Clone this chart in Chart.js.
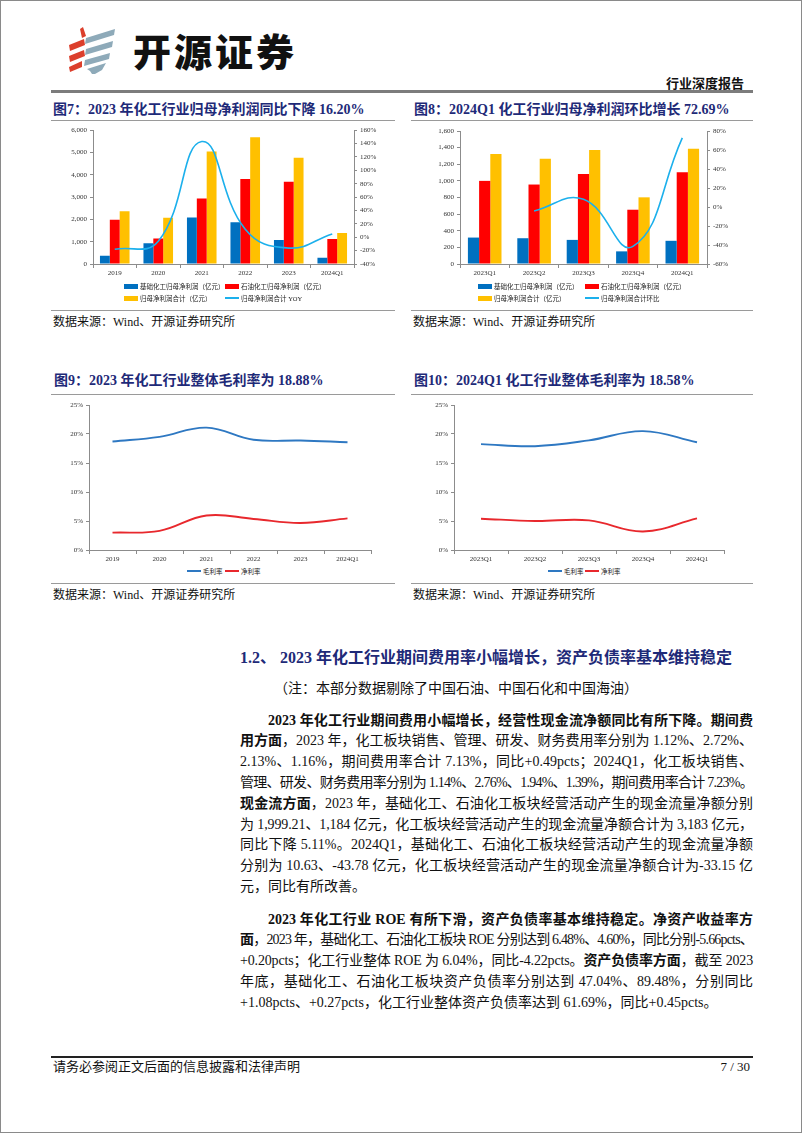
<!DOCTYPE html>
<html lang="zh-CN">
<head>
<meta charset="utf-8">
<title>化工行业深度报告 p7</title>
<script src="https://cdn.jsdelivr.net/npm/chart.js@4.4.1/dist/chart.umd.min.js"></script>
<style>
  body { margin: 0; background: #fff; }
  #page {
    position: relative; width: 802px; height: 1133px; background: #fff;
    border: 1px solid #8a8a8a; box-sizing: border-box; overflow: hidden;
    font-family: "Liberation Serif", "Noto Sans CJK SC", serif; color: #111;
  }
  .abs { position: absolute; white-space: nowrap; }
  .rule { position: absolute; background: #9a9a9a; height: 1.5px; }
  .ftitle { font-size: 14px; font-weight: bold; color: #1e2a78; height: 20px; line-height: 20px; }
  .src { font-size: 12px; height: 18px; line-height: 18px; color: #111; }
  canvas { position: absolute; }
  .lg { position: absolute; display: flex; align-items: center; height: 8px; font-size: 6.5px; color: #222;
        font-family: "Liberation Serif", "Noto Sans CJK SC", serif; white-space: nowrap; }
  .sw { display: inline-block; width: 14px; margin-right: 2px; }
  .para { position: absolute; left: 239px; width: 513px; font-size: 14px; line-height: 20.8px; }
  .ln { white-space: nowrap; text-align: justify; text-align-last: justify; height: 20.8px; }
  .ln.last { text-align-last: left; }
  .ln.ind { padding-left: 28px; }
</style>
</head>
<body>
<div id="page">

  <!-- header -->
  <svg class="abs" style="left:60px;top:22px" width="62" height="55" viewBox="0 0 62 55">
    <g fill="#dc3f2c">
      <polygon points="19,6 22,4 25,13 21,15"/>
      <polygon points="8,22 23,16 24,22 9,28"/>
      <polygon points="8,33 23,27 24,33 9,39"/>
      <polygon points="8,44 21,38 21,44 9,49"/>
    </g>
    <g fill="#8eaab9">
      <polygon points="25,15 54,6 53,12 24,21"/>
      <polygon points="25,26 52,18 51,24 24,32"/>
      <polygon points="24,37 49,30 48,36 23,43"/>
      <polygon points="26,46 45,40 41,47 34,51 31,51 29,48"/>
    </g>
  </svg>
  <div class="abs" style="left:132px;top:30px;font-family:'Noto Sans CJK SC';font-weight:900;font-size:38px;line-height:38px;letter-spacing:3px;color:#111">开源证券</div>
  <div class="abs" style="right:57px;top:74px;font-family:'Noto Sans CJK SC';font-weight:700;font-size:13px;line-height:16px;color:#111">行业深度报告</div>
  <div class="rule" style="left:50px;top:89px;width:702px;height:2.5px;background:#7c7c7c"></div>

  <!-- figure 7 / 8 -->
  <div class="abs ftitle" style="left:52px;top:99px">图7：2023 年化工行业归母净利润同比下降 16.20%</div>
  <div class="rule" style="left:50px;top:118.5px;width:344px"></div>
  <canvas id="fig7" width="347" height="160" style="left:48px;top:122px"></canvas>
  <div class="rule" style="left:50px;top:308.5px;width:344px"></div>
  <div class="abs src" style="left:52px;top:312px">数据来源：Wind、开源证券研究所</div>

  <div class="abs ftitle" style="left:413px;top:99px">图8：2024Q1 化工行业归母净利润环比增长 72.69%</div>
  <div class="rule" style="left:410px;top:118.5px;width:342px"></div>
  <canvas id="fig8" width="330" height="160" style="left:410px;top:122px"></canvas>
  <div class="rule" style="left:410px;top:308.5px;width:342px"></div>
  <div class="abs src" style="left:412px;top:312px">数据来源：Wind、开源证券研究所</div>

  <!-- figure 9 / 10 -->
  <div class="abs ftitle" style="left:53px;top:370px">图9：2023 年化工行业整体毛利率为 18.88%</div>
  <div class="rule" style="left:50px;top:392.5px;width:344px"></div>
  <canvas id="fig9" width="345" height="170" style="left:40px;top:395px"></canvas>
  <div class="rule" style="left:50px;top:581.5px;width:344px"></div>
  <div class="abs src" style="left:52px;top:585px">数据来源：Wind、开源证券研究所</div>

  <div class="abs ftitle" style="left:413px;top:370px">图10：2024Q1 化工行业整体毛利率为 18.58%</div>
  <div class="rule" style="left:410px;top:392.5px;width:342px"></div>
  <canvas id="fig10" width="340" height="170" style="left:400px;top:395px"></canvas>
  <div class="rule" style="left:410px;top:581.5px;width:342px"></div>
  <div class="abs src" style="left:412px;top:585px">数据来源：Wind、开源证券研究所</div>

  <!-- text section -->
  <div class="abs" style="left:239px;top:646px;font-size:16px;line-height:22px;font-weight:bold;color:#1e2a78">1.2、 2023 年化工行业期间费用率小幅增长，资产负债率基本维持稳定</div>
  <div class="abs" style="left:273px;top:678px;font-size:14px;line-height:20px">（注：本部分数据剔除了中国石油、中国石化和中国海油）</div>

  <div class="para" style="top:709.6px">
    <div class="ln ind"><span><b>2023 年化工行业期间费用小幅增长，经营性现金流净额同比有所下降。期间费</b></span></div>
    <div class="ln"><span><b>用方面</b>，2023 年，化工板块销售、管理、研发、财务费用率分别为 1.12%、2.72%、</span></div>
    <div class="ln"><span>2.13%、1.16%，期间费用率合计 7.13%，同比+0.49pcts；2024Q1，化工板块销售、</span></div>
    <div class="ln"><span>管理、研发、财务费用率分别为 1.14%、2.76%、1.94%、1.39%，期间费用率合计 7.23%。</span></div>
    <div class="ln"><span><b>现金流方面</b>，2023 年，基础化工、石油化工板块经营活动产生的现金流量净额分别</span></div>
    <div class="ln"><span>为 1,999.21、1,184 亿元，化工板块经营活动产生的现金流量净额合计为 3,183 亿元，</span></div>
    <div class="ln"><span>同比下降 5.11%。2024Q1，基础化工、石油化工板块经营活动产生的现金流量净额</span></div>
    <div class="ln"><span>分别为 10.63、-43.78 亿元，化工板块经营活动产生的现金流量净额合计为-33.15 亿</span></div>
    <div class="ln last"><span>元，同比有所改善。</span></div>
  </div>

  <div class="para" style="top:908.6px">
    <div class="ln ind"><span><b>2023 年化工行业 ROE 有所下滑，资产负债率基本维持稳定。净资产收益率方</b></span></div>
    <div class="ln"><span><b>面</b>，2023 年，基础化工、石油化工板块 ROE 分别达到 6.48%、4.60%，同比分别-5.66pcts、</span></div>
    <div class="ln"><span>+0.20pcts；化工行业整体 ROE 为 6.04%，同比-4.22pcts。<b>资产负债率方面</b>，截至 2023</span></div>
    <div class="ln"><span>年底，基础化工、石油化工板块资产负债率分别达到 47.04%、89.48%，分别同比</span></div>
    <div class="ln last"><span>+1.08pcts、+0.27pcts，化工行业整体资产负债率达到 61.69%，同比+0.45pcts。</span></div>
  </div>

  <!-- footer -->
  <div class="rule" style="left:50px;top:1055px;width:702px;background:#222"></div>
  <div class="abs" style="left:52px;top:1058px;font-size:13px;line-height:16px">请务必参阅正文后面的信息披露和法律声明</div>
  <div class="abs" style="right:51px;top:1058px;font-size:13px;line-height:16px">7 / 30</div>
</div>

<script>
// ---- data (亿元 / %) ----
const years = ['2019', '2020', '2021', '2022', '2023', '2024Q1'];
const basicProfit = [370, 930, 2090, 1870, 1080, 280];
const petroProfit = [1980, 1140, 2940, 3810, 3690, 1120];
const totalProfit = [2360, 2070, 5040, 5680, 4760, 1390];
const totalYoy = [-18, -6, 143, 12, -16.2, 5];

const quarters = ['2023Q1', '2023Q2', '2023Q3', '2023Q4', '2024Q1'];
const qBasicProfit = [318, 310, 290, 152, 279];
const qPetroProfit = [1000, 956, 1084, 653, 1104];
const qTotalProfit = [1323, 1267, 1370, 802, 1385];
const qTotalQoq = [null, -4.2, 8.1, -41.5, 72.69];

const grossYear = [18.7, 19.5, 21.1, 19.0, 18.88, 18.58];
const netYear = [3.0, 3.3, 5.95, 5.35, 4.65, 5.45];
const grossQ = [18.25, 17.9, 18.9, 20.5, 18.58];
const netQ = [5.4, 5.0, 5.1, 3.2, 5.45];

const profitLegend = ['基础化工归母净利润（亿元）', '石油化工归母净利润（亿元）', '归母净利润合计（亿元）'];
const marginLegend = ['毛利率', '净利率'];

// ---- styles ----
const AXIS = '#8c8c8c';
const TXT = '#333';
const tickFont = { family: 'Liberation Serif', size: 7 };
const BLUE = '#0070c0', RED = '#ff0000', YELLOW = '#ffc000', CYAN = '#1cb0ec';

function axisGrid(len) {
  return { drawOnChartArea: false, drawTicks: true, tickLength: len, color: AXIS, lineWidth: 1 };
}

function profitChart(id, labels, basic, petro, total, rate, rateLabel, yMax, yStep, rMin, rMax, box) {
  const bar = (label, data, color) => ({
    type: 'bar', label, data, backgroundColor: color, order: 1,
    barPercentage: 1, categoryPercentage: 0.68
  });
  return new Chart(document.getElementById(id), {
    type: 'bar',
    data: {
      labels,
      datasets: [
        bar(profitLegend[0], basic, BLUE),
        bar(profitLegend[1], petro, RED),
        bar(profitLegend[2], total, YELLOW),
        {
          type: 'line', label: rateLabel, data: rate, yAxisID: 'y1', order: 0,
          borderColor: CYAN, borderWidth: 1.6, pointRadius: 0, tension: 0.45, fill: false
        }
      ]
    },
    options: {
      responsive: false, animation: false,
      layout: { padding: { top: box.top, left: 0, right: 0, bottom: 0 } },
      plugins: { legend: { display: false }, tooltip: { enabled: false } },
      scales: {
        x: {
          grid: Object.assign(axisGrid(4), { offset: true }),
          border: { display: true, color: AXIS },
          ticks: { font: tickFont, color: TXT, padding: 1, maxRotation: 0, autoSkip: false },
          afterFit: s => { s.height = box.xh; }
        },
        y: {
          position: 'left', min: 0, max: yMax,
          grid: axisGrid(3), border: { display: true, color: AXIS },
          ticks: { stepSize: yStep, font: tickFont, color: TXT, padding: 3,
                   callback: v => v.toLocaleString('en-US') },
          afterFit: s => { s.width = box.yl; }
        },
        y1: {
          position: 'right', min: rMin, max: rMax,
          grid: axisGrid(3), border: { display: true, color: AXIS },
          ticks: { stepSize: 20, font: tickFont, color: TXT, padding: 3, callback: v => v + '%' },
          afterFit: s => { s.width = box.yr; }
        }
      }
    }
  });
}

function marginChart(id, labels, gross, net, box) {
  const line = (label, data, color) => ({
    label, data, borderColor: color, borderWidth: 1.9, pointRadius: 0, tension: 0.4, fill: false
  });
  return new Chart(document.getElementById(id), {
    type: 'line',
    data: { labels, datasets: [line(marginLegend[0], gross, '#2e78c2'), line(marginLegend[1], net, '#e8282d')] },
    options: {
      responsive: false, animation: false,
      layout: { padding: { top: box.top, left: 0, right: box.right, bottom: 0 } },
      plugins: { legend: { display: false }, tooltip: { enabled: false } },
      scales: {
        x: {
          offset: true,
          grid: Object.assign(axisGrid(4), { offset: true }),
          border: { display: true, color: AXIS },
          ticks: { font: tickFont, color: TXT, padding: 1, maxRotation: 0, autoSkip: false },
          afterFit: s => { s.height = box.xh; }
        },
        y: {
          min: 0, max: 25,
          grid: axisGrid(3), border: { display: true, color: AXIS },
          ticks: { stepSize: 5, font: tickFont, color: TXT, padding: 3, callback: v => v + '%' },
          afterFit: s => { s.width = box.yl; }
        }
      }
    }
  });
}

// legend drawn as html from the chart's own datasets
function htmlLegend(chart, spots, swH) {
  const page = document.getElementById('page');
  chart.data.datasets.forEach((ds, i) => {
    const isLine = (ds.type || chart.config.type) === 'line';
    const item = document.createElement('div');
    item.className = 'lg';
    item.style.left = spots[i][0] + 'px';
    item.style.top = (spots[i][1] - 4) + 'px';
    const sw = document.createElement('span');
    sw.className = 'sw';
    sw.style.height = (isLine ? swH : 5) + 'px';
    sw.style.background = isLine ? ds.borderColor : ds.backgroundColor;
    item.appendChild(sw);
    item.appendChild(document.createTextNode(ds.label));
    page.appendChild(item);
  });
}

const c7 = profitChart('fig7', years, basicProfit, petroProfit, totalProfit, totalYoy,
  '归母净利润合计 YOY', 6000, 1000, -40, 160, { top: 7, xh: 19, yl: 44, yr: 42 });
const c8 = profitChart('fig8', quarters, qBasicProfit, qPetroProfit, qTotalProfit, qTotalQoq,
  '归母净利润合计环比', 1600, 200, -60, 80, { top: 8, xh: 19, yl: 49, yr: 34 });
const c9 = marginChart('fig9', years, grossYear, netYear, { top: 9, right: 15, xh: 16, yl: 48 });
const c10 = marginChart('fig10', quarters, grossQ, netQ, { top: 9, right: 17, xh: 16, yl: 53 });

htmlLegend(c7, [[123, 285], [224, 285], [123, 297], [224, 297]], 1.5);
htmlLegend(c8, [[477, 285], [584, 285], [477, 297], [584, 297]], 1.5);
htmlLegend(c9, [[186, 570], [224, 570]], 2);
htmlLegend(c10, [[547, 570], [584, 570]], 2);

// squeeze any body line that is wider than the column
document.querySelectorAll('.ln').forEach(ln => {
  const span = ln.firstElementChild;
  const room = ln.clientWidth - parseFloat(getComputedStyle(ln).paddingLeft);
  const over = span.getBoundingClientRect().width - room;
  if (over > 0) {
    const n = span.textContent.length;
    ln.style.letterSpacing = (-(over + 1) / n) + 'px';
  }
});
</script>
</body>
</html>
